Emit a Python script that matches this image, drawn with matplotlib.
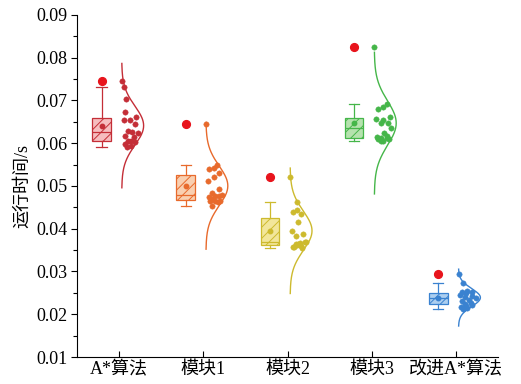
import numpy as np
import matplotlib
matplotlib.use("Agg")
import matplotlib.pyplot as plt
from matplotlib.ticker import MultipleLocator, FormatStrFormatter

plt.rcParams['font.family'] = ['Liberation Serif', 'Noto Sans CJK SC']
plt.rcParams['hatch.linewidth'] = 0.7
plt.rcParams['axes.unicode_minus'] = False

categories = ['A*算法', '模块1', '模块2', '模块3', '改进A*算法']

astar = [0.07463, 0.07309, 0.07028, 0.06738, 0.06621, 0.06544, 0.06544, 0.06443,
         0.06287, 0.06247, 0.06263, 0.06170, 0.06153, 0.06060, 0.06036, 0.06053,
         0.05982, 0.05936, 0.05919]
module1 = [0.06443, 0.05491, 0.05414, 0.05391, 0.05311, 0.05218, 0.05117, 0.04930,
           0.04829, 0.04789, 0.04773, 0.04750, 0.04773, 0.04696, 0.04649, 0.04649,
           0.04649, 0.04633, 0.04539]
module2 = [0.05218, 0.04619, 0.04439, 0.04392, 0.04338, 0.04165, 0.03947, 0.03870,
           0.03837, 0.03697, 0.03636, 0.03580, 0.03603, 0.03636, 0.03683, 0.03660,
           0.03580, 0.03557, 0.03620]
module3 = [0.08258, 0.06918, 0.06855, 0.06794, 0.06607, 0.06544, 0.06560, 0.06467,
           0.06467, 0.06350, 0.06247, 0.06139, 0.06170, 0.06116, 0.06092, 0.06060,
           0.06092, 0.06116, 0.06060]
improved = [0.0293, 0.0273, 0.0254, 0.0253, 0.0252, 0.0249, 0.0246, 0.0243, 0.0240,
            0.0237, 0.0233, 0.0230, 0.0227, 0.0225, 0.0222, 0.0219, 0.0217, 0.0214,
            0.0213]

groups = [astar, module1, module2, module3, improved]
dark_colors = ['#C42E37', '#E86A2C', '#CDBA2E', '#45B649', '#3A82D0']
light_colors = ['#F6BDBF', '#F9CFB0', '#F2E69A', '#B5E2AE', '#ABCEF0']
outlier_color = '#E8141C'

fig = plt.figure(figsize=(5.21, 3.84), dpi=100)
ax = fig.add_axes([0.148, 0.0703, 0.808, 0.891])

positions = np.arange(1, len(groups) + 1)
box_offset = -0.21
half_width = 0.26      # peak width of the distribution curves
curve_offset = 0.03

bp = ax.boxplot(groups, positions=positions + box_offset, widths=0.22,
                patch_artist=True, showmeans=True, whis=1.5, capwidths=0.12,
                manage_ticks=False)

for i, c in enumerate(dark_colors):
    box = bp['boxes'][i]
    box.set_facecolor(light_colors[i])
    box.set_edgecolor(c)
    box.set_linewidth(0.9)
    box.set_hatch('///')
    bp['medians'][i].set(color=c, linewidth=0.9)
    for w in bp['whiskers'][2 * i:2 * i + 2]:
        w.set(color=c, linewidth=0.9)
    for cap in bp['caps'][2 * i:2 * i + 2]:
        cap.set(color=c, linewidth=0.9)
    bp['means'][i].set(marker='o', markersize=3.2, markerfacecolor=c,
                       markeredgecolor=c)
    bp['fliers'][i].set(marker='o', markersize=5.6, markerfacecolor=outlier_color,
                        markeredgecolor=outlier_color)

golden = 0.6180339887
for i, (vals, c) in enumerate(zip(groups, dark_colors)):
    v = np.asarray(vals)
    mu, sd = v.mean(), v.std(ddof=1)
    base = positions[i] + curve_offset

    # normal distribution curve drawn sideways
    yy = np.linspace(mu - 3.2 * sd, mu + 3.2 * sd, 300)
    dens = np.exp(-0.5 * ((yy - mu) / sd) ** 2)
    ax.plot(base + half_width * dens, yy, color=c, linewidth=1.0, zorder=3)

    # data points spread inside the curve envelope
    frac = 0.08 + 0.84 * ((np.arange(len(v)) * golden + 0.3) % 1.0)
    env = half_width * np.exp(-0.5 * ((v - mu) / sd) ** 2)
    ax.scatter(base + frac * env, v, s=15, color=c, edgecolors=c,
               linewidths=0.3, zorder=4)

ax.set_xlim(0.5, 5.5)
ax.set_ylim(0.01, 0.09)
ax.set_xticks(positions)
ax.set_xticklabels(categories)
ax.yaxis.set_major_locator(MultipleLocator(0.01))
ax.yaxis.set_minor_locator(MultipleLocator(0.005))
ax.yaxis.set_major_formatter(FormatStrFormatter('%.2f'))

ax.spines['top'].set_visible(False)
ax.spines['right'].set_visible(False)
for s in ('left', 'bottom'):
    ax.spines[s].set_linewidth(0.8)

ax.tick_params(axis='y', which='major', direction='out', length=4, width=0.8,
               labelsize=13, pad=3)
ax.tick_params(axis='y', which='minor', direction='out', length=3, width=0.8)
ax.tick_params(axis='x', which='major', direction='in', length=4.5, width=0.8,
               labelsize=13, pad=3)

ax.set_ylabel('运行时间/s', fontsize=13, labelpad=4)

fig.savefig('out.png', dpi=100)
